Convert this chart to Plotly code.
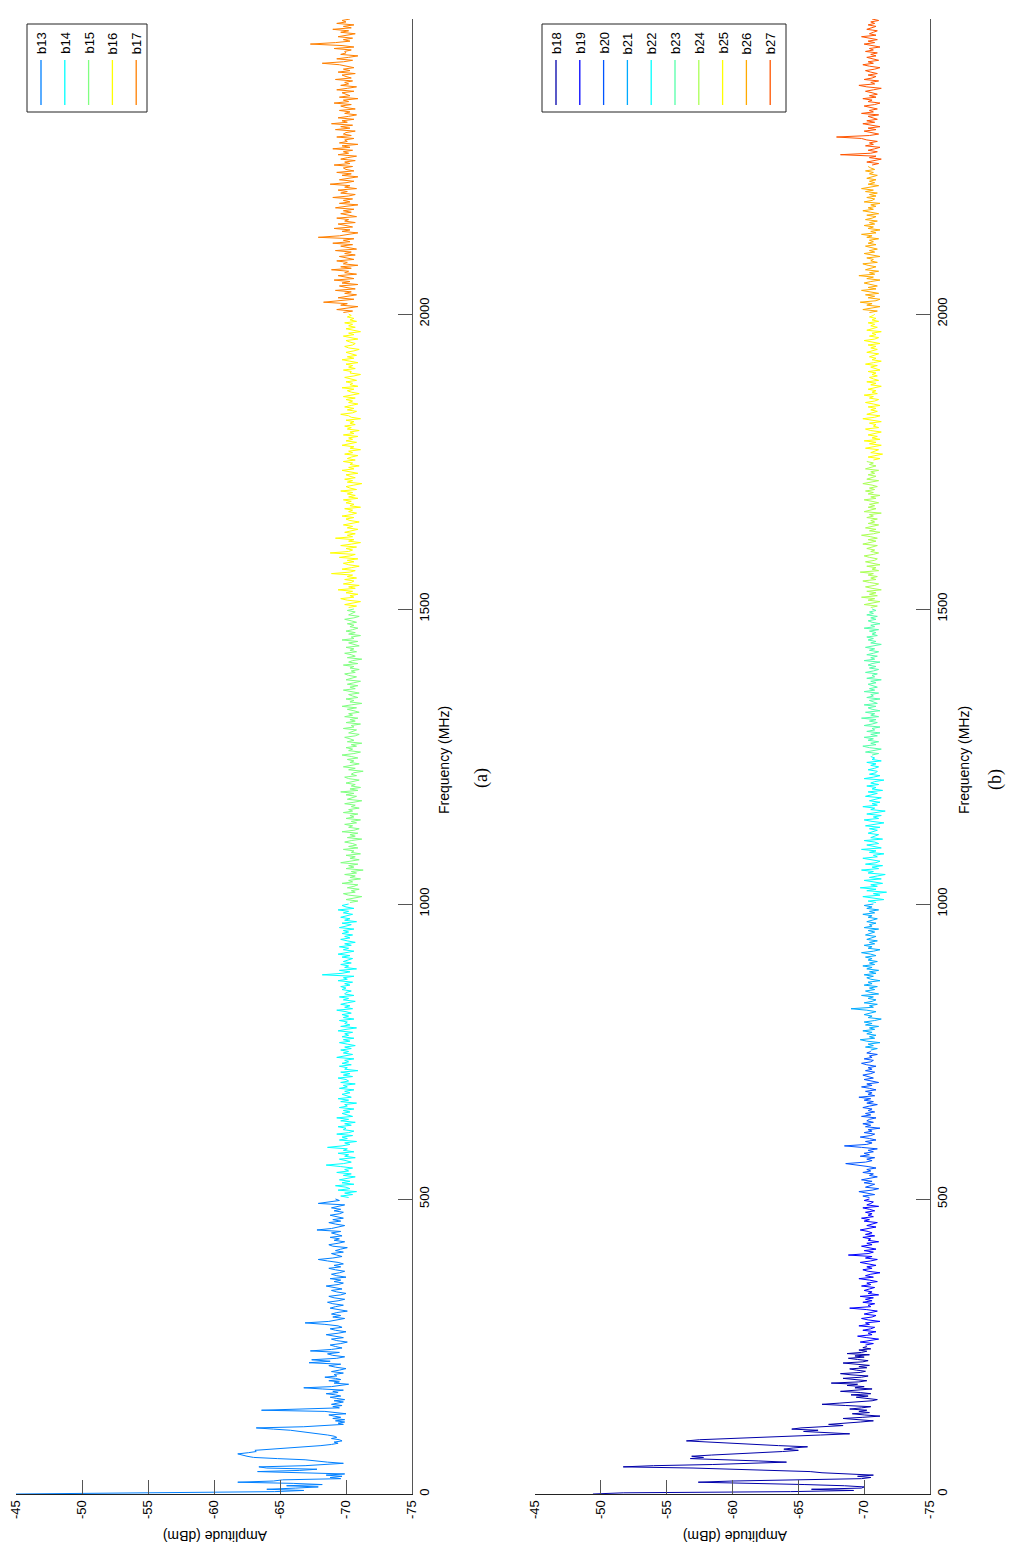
import numpy as np
import plotly.graph_objects as go

# ---------------- data: panel (a) ----------------
b13_low_amp = [  # 0..200 MHz, 2 MHz step
    -45.0, -57.5, -64.6, -66.8, -64.0, -66.2, -67.9, -65.5, -68.2, -66.0,
    -61.8, -64.5, -65.2, -69.6, -68.8, -69.7, -68.5, -69.9, -66.0, -63.3,
    -66.5, -67.8, -64.0, -63.4, -66.9, -68.8, -69.8, -68.6, -67.5, -66.9,
    -64.8, -63.0, -62.5, -62.2, -61.8, -62.6, -63.2, -63.1, -64.5, -65.9,
    -66.9, -68.1, -68.9, -69.4, -69.1, -69.7, -69.5, -68.9, -69.3, -69.1,
    -68.6, -67.9, -67.3, -66.4, -65.8, -64.5, -63.2, -66.8, -68.9, -69.8,
    -69.4, -69.9, -69.2, -69.9, -69.0, -69.6, -69.1, -68.7, -70.0, -69.2,
    -68.4, -63.6, -67.5, -69.5, -69.0, -69.7, -68.9, -69.5, -69.8, -69.1,
    -69.9, -69.3, -68.8, -69.6, -69.2, -68.5, -69.4, -69.0, -69.8, -68.2,
    -66.8, -68.9, -69.6, -70.2, -69.1, -69.5, -68.7, -69.6, -69.2, -68.4,
    -69.3]
b13_amp = [  # 202.5..500 MHz, 2.5 MHz step
    -69.1, -69.8, -68.9, -69.5, -70.0, -69.2, -68.7, -69.6, -67.2, -68.8,
    -67.4, -69.3, -69.9, -69.0, -68.6, -69.5, -67.3, -68.9, -69.7, -69.2,
    -68.8, -69.6, -70.1, -69.3, -68.9, -69.8, -69.1, -68.5, -69.4, -70.0,
    -69.2, -68.8, -69.7, -69.4, -68.4, -66.9, -68.7, -69.5, -69.9, -69.0,
    -69.6, -68.9, -69.3, -70.1, -69.5, -68.8, -69.2, -69.8, -69.0, -68.6,
    -69.4, -69.9, -69.1, -68.7, -69.6, -70.0, -69.3, -68.9, -69.7, -69.2,
    -68.5, -69.4, -69.8, -69.1, -69.6, -68.8, -70.0, -69.3, -68.9, -69.5,
    -69.9, -69.2, -68.7, -69.6, -69.1, -69.8, -69.4, -68.6, -67.9, -69.0,
    -69.7, -69.3, -68.9, -69.8, -69.2, -69.6, -70.1, -69.0, -68.7, -69.4,
    -69.9, -69.1, -69.5, -68.8, -69.7, -69.3, -68.9, -69.6, -67.8, -68.9,
    -69.5, -69.9, -69.2, -68.7, -69.6, -69.0, -69.8, -69.3, -68.8, -69.5,
    -69.8, -69.1, -69.6, -68.9, -69.4, -69.9, -67.9, -68.8, -69.5, -69.2]
b14_amp = [  # 502.5..1000
    -70.2, -69.6, -70.5, -69.9, -70.8, -69.4, -70.3, -70.0, -69.2, -70.6,
    -69.7, -70.3, -69.5, -70.1, -70.7, -69.8, -70.4, -69.3, -70.2, -69.9,
    -70.5, -69.6, -68.5, -69.8, -70.4, -70.0, -69.5, -70.7, -69.9, -70.2,
    -69.4, -70.6, -69.8, -70.1, -68.6, -69.7, -70.3, -69.9, -70.8, -69.5,
    -70.1, -69.7, -70.5, -69.3, -70.2, -70.6, -69.8, -70.0, -69.4, -70.4,
    -69.9, -70.7, -69.6, -70.2, -69.3, -70.5, -70.0, -69.7, -70.3, -69.8,
    -70.6, -69.5, -70.1, -69.9, -70.8, -69.6, -70.2, -69.4, -70.4, -70.0,
    -69.7, -70.3, -69.9, -70.6, -69.5, -70.1, -69.8, -70.7, -69.6, -70.2,
    -70.0, -69.4, -70.5, -69.8, -70.3, -69.6, -70.9, -69.9, -70.1, -69.5,
    -70.4, -69.7, -70.2, -69.9, -70.6, -69.3, -70.0, -70.5, -69.8, -70.2,
    -69.6, -70.4, -69.9, -70.7, -70.1, -69.5, -70.3, -69.8, -70.6, -69.7,
    -70.2, -69.9, -70.5, -69.4, -70.0, -70.8, -69.6, -70.3, -69.9, -70.1,
    -69.5, -70.6, -69.8, -70.2, -69.7, -70.4, -70.0, -69.3, -70.5, -69.9,
    -70.3, -69.6, -70.1, -70.7, -69.8, -70.2, -69.5, -70.6, -69.9, -70.0,
    -70.4, -69.7, -70.0, -69.6, -70.3, -69.9, -70.5, -69.4, -70.1, -69.8,
    -70.6, -68.2, -69.7, -70.3, -69.5, -70.8, -69.9, -70.2, -69.6, -70.4,
    -69.8, -70.1, -70.5, -69.7, -70.3, -69.4, -70.0, -70.6, -69.8, -70.2,
    -69.5, -70.4, -69.9, -70.7, -70.1, -69.6, -70.3, -69.9, -70.5, -69.7,
    -70.2, -69.8, -70.6, -69.5, -70.0, -70.4, -69.7, -70.8, -69.9, -70.3,
    -69.6, -70.1, -70.5, -69.8, -70.2, -69.4, -70.6, -70.0, -69.7, -70.2]
b15_amp = [  # 1002.5..1500
    -70.3, -70.9, -70.0, -70.6, -71.2, -70.2, -69.8, -70.7, -70.4, -71.0,
    -70.1, -70.6, -70.9, -69.7, -70.5, -70.2, -71.1, -70.3, -70.7, -69.9,
    -70.8, -70.4, -71.3, -70.0, -70.6, -70.2, -70.9, -69.6, -70.5, -71.0,
    -70.3, -70.7, -70.0, -71.1, -70.4, -70.6, -69.8, -70.9, -70.2, -70.8,
    -70.5, -69.9, -70.4, -71.2, -70.1, -70.7, -70.3, -70.9, -69.7, -70.6,
    -71.0, -70.2, -70.5, -69.9, -70.8, -70.4, -71.1, -70.0, -70.6, -70.3,
    -70.9, -69.8, -70.5, -70.2, -71.0, -70.4, -70.7, -69.9, -70.6, -71.2,
    -70.1, -70.5, -70.8, -70.0, -70.6, -69.6, -70.9, -70.3, -71.1, -70.4,
    -70.7, -70.0, -70.5, -71.0, -70.2, -69.9, -70.8, -70.4, -70.6, -71.3,
    -70.2, -70.7, -69.8, -70.5, -71.0, -70.3, -70.6, -70.1, -70.9, -70.4,
    -69.7, -70.6, -71.1, -70.2, -70.5, -70.0, -70.8, -70.4, -71.2, -70.1,
    -70.6, -70.3, -69.9, -70.7, -71.0, -70.2, -70.5, -70.8, -69.8, -70.6,
    -70.4, -71.1, -70.0, -70.7, -70.3, -70.9, -69.9, -70.5, -70.2, -71.0,
    -70.6, -70.1, -70.8, -69.7, -70.4, -71.2, -70.3, -70.6, -70.0, -70.9,
    -70.5, -70.2, -71.0, -70.4, -69.8, -70.7, -70.3, -70.9, -70.1, -70.6,
    -71.1, -70.0, -70.5, -70.8, -70.2, -69.9, -70.7, -70.4, -71.0, -70.3,
    -70.6, -69.8, -70.9, -70.2, -70.5, -71.2, -70.1, -70.7, -70.4, -69.9,
    -70.8, -70.3, -70.6, -70.0, -71.0, -70.5, -70.2, -70.9, -69.7, -70.6,
    -70.4, -71.1, -70.2, -70.7, -70.0, -70.5, -70.9, -70.3, -70.6, -70.1,
    -70.8, -70.4, -69.9, -70.6, -71.0, -70.2, -70.5, -70.7, -70.1, -70.6]
b16_amp = [  # 1502.5..2000
    -70.2, -70.8, -69.9, -70.5, -71.1, -70.1, -69.6, -70.6, -70.3, -70.9,
    -70.0, -70.5, -69.4, -70.7, -70.2, -71.0, -69.8, -70.4, -70.6, -69.9,
    -70.8, -70.1, -70.5, -68.9, -70.3, -70.7, -69.7, -70.4, -71.0, -70.2,
    -69.8, -70.6, -70.1, -70.9, -69.5, -70.3, -70.7, -68.8, -70.2, -70.5,
    -70.0, -70.8, -69.6, -70.4, -71.1, -70.2, -70.6, -69.2, -70.5, -70.1,
    -70.7, -69.9, -70.4, -70.9, -70.1, -70.5, -69.8, -70.6, -71.0, -70.3,
    -70.0, -70.6, -69.7, -70.4, -70.8, -70.2, -70.5, -69.9, -71.1, -70.3,
    -70.6, -70.0, -70.4, -69.8, -70.9, -70.2, -70.7, -70.1, -70.5, -69.6,
    -70.8, -70.3, -70.0, -70.6, -71.2, -70.1, -70.5, -69.9, -70.7, -70.3,
    -70.0, -70.9, -70.4, -69.7, -70.6, -70.2, -71.0, -70.3, -70.5, -69.8,
    -70.7, -70.1, -70.4, -70.9, -69.9, -70.5, -70.2, -71.1, -70.3, -70.6,
    -69.7, -70.4, -70.8, -70.0, -70.5, -70.2, -70.9, -69.8, -70.6, -70.3,
    -71.0, -70.1, -70.4, -69.9, -70.7, -70.3, -70.6, -70.0, -71.1, -70.4,
    -70.2, -69.6, -70.5, -70.8, -70.1, -70.6, -69.9, -70.4, -70.9, -70.2,
    -70.5, -70.0, -70.7, -69.8, -70.3, -71.0, -70.4, -70.1, -70.6, -69.7,
    -70.9, -70.3, -70.5, -70.0, -70.8, -70.2, -69.9, -70.6, -71.1, -70.3,
    -70.4, -69.8, -70.7, -70.2, -70.5, -70.0, -70.9, -70.3, -69.7, -70.6,
    -70.1, -70.8, -70.4, -70.0, -70.6, -71.0, -70.2, -69.9, -70.5, -70.7,
    -70.3, -70.0, -70.9, -70.4, -69.8, -70.6, -70.2, -71.1, -70.4, -70.0,
    -70.7, -70.2, -70.5, -69.9, -70.8, -70.3, -70.6, -70.1, -70.4, -70.2]
b17_amp = [  # 2002.5..2500
    -69.8, -70.5, -69.3, -70.2, -70.9, -69.6, -70.1, -68.3, -69.7, -70.6,
    -69.4, -70.3, -70.8, -69.9, -70.4, -69.2, -70.7, -70.0, -69.5, -70.9,
    -69.7, -70.3, -69.1, -70.6, -70.0, -69.4, -70.8, -69.9, -70.2, -68.9,
    -70.4, -69.6, -70.9, -69.8, -70.1, -69.3, -70.6, -70.0, -69.5, -70.7,
    -69.9, -70.4, -69.2, -70.8, -70.1, -69.6, -70.5, -69.0, -70.3, -69.8,
    -70.6, -67.9, -69.5, -70.2, -70.9, -69.7, -70.3, -69.1, -70.5, -70.0,
    -69.4, -70.7, -69.9, -70.2, -69.3, -70.8, -70.1, -69.6, -70.4, -69.8,
    -70.6, -69.2, -70.0, -70.9, -69.5, -70.3, -69.8, -70.5, -69.0, -70.2,
    -70.7, -69.6, -70.1, -69.4, -70.8, -69.9, -70.3, -68.8, -70.0, -70.6,
    -69.5, -70.2, -70.9, -69.7, -70.4, -69.3, -70.6, -70.0, -69.8, -70.5,
    -69.1, -70.3, -69.9, -70.7, -69.6, -70.1, -70.8, -69.4, -70.2, -69.8,
    -70.5, -69.0, -70.3, -69.7, -70.9, -69.5, -70.1, -69.9, -70.6, -69.3,
    -70.4, -69.8, -70.0, -70.7, -69.2, -70.3, -69.6, -70.5, -68.9, -70.1,
    -69.7, -70.6, -69.4, -70.2, -70.8, -69.9, -70.3, -69.5, -70.7, -70.0,
    -69.6, -70.4, -69.1, -70.2, -69.8, -70.9, -69.5, -70.3, -70.0, -69.7,
    -70.6, -69.3, -70.1, -70.8, -69.6, -70.2, -69.9, -70.5, -69.2, -70.4,
    -70.0, -69.7, -70.7, -69.4, -70.3, -69.8, -70.6, -70.1, -69.5, -68.2,
    -69.8, -70.5, -69.3, -70.2, -70.9, -69.6, -70.0, -69.9, -70.4, -69.1,
    -70.6, -69.7, -67.3, -69.2, -70.3, -69.8, -70.5, -69.4, -70.1, -70.7,
    -69.6, -70.2, -69.0, -70.4, -69.8, -70.6, -69.3, -70.0, -69.7, -70.3]

# ---------------- data: panel (b) ----------------
b18_amp = [  # 0..250 MHz, 2 MHz step
    -49.4, -51.7, -64.4, -69.2, -66.0, -69.8, -70.0, -68.5, -65.5, -62.0,
    -57.4, -60.0, -64.0, -69.8, -70.5, -69.5, -70.7, -68.0, -66.8, -65.9,
    -63.0, -60.5, -57.0, -51.7, -54.0, -58.5, -62.6, -64.1, -62.0, -59.0,
    -56.8, -57.8, -56.9, -58.4, -60.6, -62.6, -63.8, -65.0, -63.9, -64.6,
    -65.7, -63.5, -61.6, -59.8, -58.0, -56.5, -57.5, -60.2, -62.6, -64.3,
    -66.7, -68.9, -67.5, -65.4, -66.5, -64.5, -65.2, -66.9, -68.4, -67.3,
    -68.8, -69.7, -70.7, -69.5, -68.4, -69.9, -71.2, -70.0, -69.1, -70.4,
    -69.6, -70.2, -68.9, -69.8, -70.5, -68.6, -66.8, -68.1, -69.5, -70.6,
    -71.0, -70.1, -69.4, -70.3, -69.0, -70.5, -69.7, -68.2, -69.8, -70.6,
    -69.3, -70.0, -68.7, -69.5, -67.5, -69.6, -70.2, -69.1, -68.4, -69.8,
    -70.3, -69.0, -68.2, -69.7, -70.1, -69.4, -68.9, -70.2, -69.6, -70.4,
    -69.1, -68.4, -69.9, -70.3, -69.5, -68.8, -70.0, -69.3, -70.4, -68.7,
    -69.8, -70.2, -69.6, -70.5, -69.9, -70.2]
b19_amp = [  # 252.5..500, 2.5 MHz step
    -70.1, -70.7, -69.7, -70.4, -71.1, -70.2, -69.5, -70.6, -70.3, -70.9,
    -69.9, -70.5, -70.8, -69.6, -70.4, -70.1, -71.2, -70.3, -69.8, -70.6,
    -70.9, -70.0, -70.4, -71.0, -70.2, -68.9, -70.5, -70.3, -70.8, -69.9,
    -70.6, -70.1, -70.7, -69.7, -71.1, -70.3, -70.6, -70.0, -70.4, -70.8,
    -69.8, -70.5, -70.2, -71.0, -70.4, -69.6, -70.7, -70.1, -70.5, -71.2,
    -70.3, -69.9, -70.6, -70.2, -70.9, -70.4, -69.7, -70.5, -71.0, -70.1,
    -70.6, -68.8, -70.3, -70.7, -70.0, -70.9, -70.4, -69.8, -70.6, -70.2,
    -71.1, -70.3, -70.5, -69.9, -70.8, -70.1, -70.6, -70.3, -69.7, -70.5,
    -70.9, -70.2, -70.6, -71.0, -70.0, -70.4, -69.8, -70.7, -70.3, -70.6,
    -70.1, -70.8, -70.4, -69.9, -71.1, -70.2, -70.5, -70.7, -70.0, -70.4]
b20_amp = [  # 502.5..750
    -70.4, -69.9, -70.8, -70.2, -69.6, -70.6, -71.1, -70.1, -70.5, -70.8,
    -70.0, -70.6, -69.8, -70.3, -71.0, -70.4, -70.7, -69.9, -70.5, -70.2,
    -70.9, -70.3, -69.5, -68.6, -70.1, -70.6, -70.2, -70.8, -69.7, -70.4,
    -70.0, -70.7, -70.3, -71.0, -69.8, -68.5, -70.2, -70.6, -70.1, -70.9,
    -70.4, -69.7, -70.5, -70.8, -70.0, -70.6, -70.3, -71.2, -70.1, -70.5,
    -69.9, -70.7, -70.2, -70.4, -70.9, -69.8, -70.5, -70.1, -70.8, -70.3,
    -70.6, -69.9, -70.4, -71.0, -70.2, -70.7, -70.0, -70.5, -69.6, -70.8,
    -70.3, -70.6, -70.1, -70.9, -70.4, -69.8, -70.6, -70.2, -71.1, -70.4,
    -70.0, -70.7, -70.3, -69.9, -70.5, -70.8, -70.1, -70.6, -70.3, -70.9,
    -70.2, -69.8, -70.5, -70.7, -70.0, -70.6, -70.4, -71.0, -70.2, -70.5]
b21_amp = [  # 752.5..1000
    -70.5, -71.0, -70.1, -70.7, -70.3, -71.2, -70.2, -69.7, -70.8, -70.4,
    -70.9, -70.2, -70.6, -69.9, -70.8, -70.4, -71.1, -70.1, -70.6, -70.0,
    -70.8, -71.3, -70.3, -70.6, -70.0, -70.5, -70.9, -70.2, -69.0, -70.7,
    -70.4, -71.0, -70.0, -70.6, -70.9, -70.3, -70.7, -69.8, -71.1, -70.5,
    -70.1, -70.8, -70.4, -71.0, -70.0, -70.6, -70.3, -71.2, -70.5, -70.2,
    -70.7, -70.0, -70.9, -70.4, -71.1, -70.2, -70.6, -69.9, -70.8, -70.4,
    -71.0, -70.3, -70.6, -70.1, -70.9, -70.5, -69.8, -70.7, -71.2, -70.3,
    -70.6, -70.0, -70.8, -70.4, -71.0, -70.2, -70.6, -70.9, -70.1, -70.5,
    -70.8, -70.3, -71.1, -70.0, -70.6, -70.4, -70.9, -70.2, -70.7, -71.0,
    -70.3, -70.6, -69.9, -70.8, -70.4, -71.1, -70.2, -70.6, -70.0, -70.7]
b22_amp = [  # 1002.5..1250
    -70.9, -70.3, -71.5, -70.6, -69.9, -71.2, -70.7, -71.7, -70.2, -70.9,
    -69.7, -71.0, -70.5, -71.4, -70.8, -70.0, -71.3, -70.4, -71.0, -71.6,
    -70.3, -70.7, -69.8, -71.1, -70.6, -71.4, -70.1, -70.9, -71.2, -70.5,
    -69.9, -71.0, -70.7, -71.5, -70.4, -70.9, -69.8, -71.3, -70.6, -70.2,
    -71.1, -70.8, -70.0, -71.4, -70.5, -70.9, -71.1, -70.3, -70.7, -71.0,
    -70.4, -71.2, -70.1, -70.8, -71.5, -70.6, -70.0, -71.1, -70.7, -71.3,
    -70.2, -70.9, -71.6, -70.5, -70.8, -69.9, -71.0, -70.6, -71.2, -70.4,
    -70.8, -71.3, -70.1, -70.7, -71.0, -70.3, -71.4, -70.6, -70.9, -70.2,
    -71.1, -70.5, -70.8, -71.5, -70.0, -70.7, -71.2, -70.4, -70.9, -71.0,
    -70.3, -70.8, -71.1, -70.5, -70.9, -70.2, -71.3, -70.6, -70.8, -70.5]
b23_amp = [  # 1252.5..1500
    -70.6, -71.1, -70.1, -70.8, -71.3, -70.4, -69.9, -70.9, -70.5, -71.1,
    -70.3, -70.7, -70.0, -71.0, -70.5, -71.2, -70.2, -70.8, -70.6, -71.2,
    -70.0, -70.6, -71.0, -70.4, -70.9, -69.8, -71.1, -70.5, -70.8, -70.1,
    -71.2, -70.6, -70.3, -70.9, -70.0, -71.0, -70.6, -70.4, -71.2, -70.2,
    -70.7, -70.5, -71.1, -70.0, -70.8, -70.4, -71.0, -70.7, -70.3, -70.9,
    -70.5, -71.3, -70.2, -70.8, -70.6, -71.0, -70.1, -70.7, -71.1, -70.4,
    -70.9, -70.3, -70.6, -71.2, -70.0, -70.8, -70.5, -71.0, -70.2, -70.7,
    -71.1, -70.4, -70.8, -70.1, -70.6, -71.3, -70.5, -70.9, -70.3, -70.7,
    -70.2, -71.0, -70.6, -70.9, -70.4, -71.1, -70.0, -70.8, -70.5, -71.2,
    -70.6, -70.3, -70.9, -70.5, -71.0, -70.2, -70.7, -70.4, -70.9, -70.6]
b24_amp = [  # 1502.5..1750
    -70.5, -71.0, -70.0, -70.7, -71.2, -70.3, -70.8, -69.8, -71.0, -70.4,
    -70.9, -70.2, -71.3, -70.6, -70.1, -70.8, -71.1, -70.4, -69.9, -70.9,
    -70.5, -71.0, -70.3, -70.7, -69.7, -71.1, -70.6, -70.9, -70.2, -71.2,
    -70.6, -70.1, -70.8, -71.0, -70.4, -70.0, -70.7, -71.1, -70.5, -70.8,
    -70.2, -70.6, -71.0, -69.9, -70.5, -70.9, -70.3, -71.0, -70.5, -69.8,
    -70.7, -71.2, -70.4, -70.9, -70.1, -70.6, -71.1, -70.3, -70.8, -70.5,
    -71.0, -70.2, -70.7, -70.4, -71.3, -70.0, -70.6, -70.9, -70.3, -70.8,
    -70.4, -71.1, -70.6, -70.0, -70.9, -70.5, -71.2, -70.3, -70.7, -70.1,
    -70.8, -70.4, -71.0, -70.6, -69.9, -70.7, -71.1, -70.2, -70.6, -70.9,
    -70.3, -70.8, -70.5, -71.1, -70.1, -70.6, -70.9, -70.4, -70.7, -70.2]
b25_amp = [  # 1752.5..2000
    -70.7, -71.2, -70.3, -70.9, -71.4, -70.5, -70.8, -71.1, -70.1, -70.7,
    -71.3, -70.4, -70.9, -70.0, -71.2, -70.6, -71.0, -70.3, -70.8, -71.3,
    -70.5, -70.1, -71.1, -70.7, -70.9, -70.4, -71.3, -70.6, -69.9, -70.8,
    -71.2, -70.2, -70.7, -71.0, -70.5, -70.9, -70.3, -71.2, -70.7, -70.1,
    -70.8, -71.1, -70.4, -70.7, -70.0, -71.0, -70.6, -70.9, -70.3, -70.8,
    -71.3, -70.5, -70.9, -70.2, -71.1, -70.7, -70.4, -71.0, -70.6, -70.9,
    -70.3, -71.2, -70.8, -70.5, -71.0, -70.1, -70.7, -71.3, -70.6, -70.9,
    -70.4, -70.8, -71.1, -70.2, -70.7, -71.0, -70.5, -70.9, -70.3, -71.2,
    -70.6, -70.0, -70.8, -71.1, -70.4, -70.9, -70.6, -71.3, -70.2, -70.7,
    -71.0, -70.5, -70.8, -70.3, -71.1, -70.6, -70.9, -70.4, -70.7, -70.8]
b26_amp = [  # 2002.5..2250
    -70.4, -71.0, -69.9, -70.7, -71.2, -70.2, -70.6, -69.7, -70.9, -71.2,
    -70.3, -70.8, -70.1, -71.1, -70.5, -69.8, -70.9, -70.3, -71.0, -70.6,
    -70.0, -70.5, -71.2, -70.2, -70.7, -69.6, -70.8, -70.4, -71.1, -70.1,
    -70.6, -70.9, -70.3, -69.9, -71.0, -70.5, -70.7, -70.2, -71.2, -70.5,
    -70.0, -70.8, -70.4, -71.0, -70.6, -70.1, -70.9, -70.3, -70.7, -70.4,
    -71.1, -70.2, -70.6, -69.8, -70.9, -70.5, -71.2, -70.3, -70.7, -70.0,
    -70.8, -70.4, -71.0, -70.1, -70.6, -70.9, -70.2, -71.1, -70.5, -69.9,
    -70.7, -70.3, -70.9, -70.5, -71.2, -70.0, -70.6, -70.8, -70.2, -70.9,
    -70.4, -71.0, -70.1, -70.7, -69.8, -70.6, -71.1, -70.3, -70.8, -70.4,
    -70.9, -70.2, -70.6, -71.0, -70.4, -70.7, -70.1, -70.8, -70.5, -70.3]
b27_amp = [  # 2252.5..2500
    -70.6, -71.1, -70.2, -70.8, -71.3, -70.4, -70.9, -68.2, -70.5, -71.0,
    -70.3, -70.8, -71.2, -70.1, -70.7, -70.4, -71.0, -70.2, -69.8, -67.9,
    -70.4, -71.1, -70.6, -70.0, -70.9, -70.3, -71.2, -70.5, -69.9, -70.8,
    -70.2, -71.0, -70.6, -70.3, -71.1, -69.8, -70.7, -70.4, -71.0, -70.5,
    -70.0, -70.8, -71.2, -70.3, -70.6, -69.9, -70.9, -70.4, -71.0, -70.6,
    -70.1, -70.7, -71.3, -70.2, -69.6, -70.8, -70.5, -71.1, -70.0, -70.6,
    -70.9, -70.3, -71.0, -70.5, -70.1, -70.8, -71.2, -70.4, -69.9, -70.7,
    -70.3, -71.1, -70.6, -70.2, -70.9, -70.5, -71.0, -70.1, -70.7, -70.4,
    -71.2, -70.6, -70.0, -70.8, -70.3, -71.0, -70.5, -69.8, -70.9, -70.4,
    -70.7, -71.0, -70.2, -70.6, -70.9, -70.3, -70.8, -70.5, -71.1, -70.6]

amp_ticks = [-45, -50, -55, -60, -65, -70, -75]
amp_ticktext = ["-45", "-50", "-55", "-60", "-65", "-70", "-75"]
freq_ticks = [0, 500, 1000, 1500, 2000, 2500]
freq_ticktext = ["0", "500", "1000", "1500", "2000", "2500"]

names_a = ["b13", "b14", "b15", "b16", "b17"]
colors_a = ["#0080ff", "#00ffff", "#80ff80", "#ffff00", "#ff8000"]
names_b = ["b18", "b19", "b20", "b21", "b22", "b23", "b24", "b25", "b26", "b27"]
colors_b = ["#0000aa", "#0000ff", "#0055ff", "#00aaff", "#00ffff",
            "#55ffaa", "#aaff55", "#ffff00", "#ffaa00", "#ff5500"]


def freqs(start, step, n):
    return start + step * np.arange(n)


b13_f = np.concatenate([freqs(0, 2, len(b13_low_amp)), freqs(202.5, 2.5, len(b13_amp))])
b13_a = list(b13_low_amp) + list(b13_amp)
series_a = [
    (b13_f, b13_a),
    (freqs(502.5, 2.5, len(b14_amp)), b14_amp),
    (freqs(1002.5, 2.5, len(b15_amp)), b15_amp),
    (freqs(1502.5, 2.5, len(b16_amp)), b16_amp),
    (freqs(2002.5, 2.5, len(b17_amp)), b17_amp),
]
series_b = [
    (freqs(0, 2, len(b18_amp)), b18_amp),
    (freqs(252.5, 2.5, len(b19_amp)), b19_amp),
    (freqs(502.5, 2.5, len(b20_amp)), b20_amp),
    (freqs(752.5, 2.5, len(b21_amp)), b21_amp),
    (freqs(1002.5, 2.5, len(b22_amp)), b22_amp),
    (freqs(1252.5, 2.5, len(b23_amp)), b23_amp),
    (freqs(1502.5, 2.5, len(b24_amp)), b24_amp),
    (freqs(1752.5, 2.5, len(b25_amp)), b25_amp),
    (freqs(2002.5, 2.5, len(b26_amp)), b26_amp),
    (freqs(2252.5, 2.5, len(b27_amp)), b27_amp),
]

# page has an 8px body margin; build the figure so page pixels match the reference
OFF = 8
W, H = 1017 - 2 * OFF, 1555 - 2 * OFF
fig = go.Figure()
for (f, a), name, col in zip(series_a, names_a, colors_a):
    fig.add_trace(go.Scatter(x=a, y=f, mode="lines", name=name,
                             line=dict(color=col, width=1), xaxis="x", yaxis="y",
                             showlegend=False))
for (f, a), name, col in zip(series_b, names_b, colors_b):
    fig.add_trace(go.Scatter(x=a, y=f, mode="lines", name=name,
                             line=dict(color=col, width=1), xaxis="x2", yaxis="y2",
                             showlegend=False))

FONT = "Liberation Sans, Arial, sans-serif"
AX = "#555555"


def px(x):
    return (x - OFF) / W


def py(y):
    return 1 - (y - OFF) / H


ydom = [py(1494), py(19)]
common_x = dict(range=[-45, -75], tickmode="array", tickvals=amp_ticks, ticktext=amp_ticktext,
                ticks="inside", ticklen=14, tickcolor=AX, tickwidth=1,
                showline=True, linecolor="#222222", linewidth=1, showgrid=False,
                zeroline=False, tickangle=-90, tickfont=dict(size=13, color="black", family=FONT),
                automargin=False, fixedrange=True)
common_y = dict(range=[0, 2500], domain=ydom, tickmode="array", tickvals=freq_ticks,
                ticktext=freq_ticktext, side="right",
                ticks="inside", ticklen=14, tickcolor=AX, tickwidth=1,
                showline=True, linecolor=AX, linewidth=1, showgrid=False,
                zeroline=False, tickangle=-90, tickfont=dict(size=13, color="black", family=FONT),
                automargin=False, fixedrange=True)

fig.update_layout(
    width=W, height=H,
    margin=dict(l=0, r=0, t=0, b=0),
    paper_bgcolor="white", plot_bgcolor="white",
    showlegend=False,
    xaxis=dict(domain=[px(16), px(412)], anchor="y", **common_x),
    yaxis=dict(anchor="x", **common_y),
    xaxis2=dict(domain=[px(535), px(930)], anchor="y2", **common_x),
    yaxis2=dict(anchor="x2", **common_y),
)

annotations = []
shapes = []


def text(x, y, s, angle, size=14, family=FONT):
    annotations.append(dict(x=px(x), y=py(y), xref="paper", yref="paper", text=s,
                            showarrow=False, textangle=angle,
                            font=dict(size=size, family=family, color="black"),
                            xanchor="center", yanchor="middle"))


text(215, 1536, "Amplitude (dBm)", 180, 14)
text(735, 1536, "Amplitude (dBm)", 180, 14)
text(444, 760, "Frequency (MHz)", -90, 14)
text(964, 760, "Frequency (MHz)", -90, 14)
text(481, 778, "(a)", -90, 18, "Liberation Serif, Times New Roman, serif")
text(995, 780, "(b)", -90, 18, "Liberation Serif, Times New Roman, serif")


def legend(x0, x1, y0, y1, names, colors, first_x, spacing):
    shapes.append(dict(type="rect", xref="paper", yref="paper",
                       x0=px(x0), x1=px(x1), y0=py(y1), y1=py(y0),
                       line=dict(color="#222222", width=1), fillcolor="white"))
    for i, (n, c) in enumerate(zip(names, colors)):
        cx = first_x + i * spacing
        shapes.append(dict(type="line", xref="paper", yref="paper",
                           x0=px(cx), x1=px(cx), y0=py(105), y1=py(60),
                           line=dict(color=c, width=1.3)))
        text(cx, 43, n, -90, 13)


legend(27, 147, 24, 112, names_a, colors_a, 41, 23.8)
legend(542, 786, 24, 112, names_b, colors_b, 556, 23.8)

fig.update_layout(annotations=annotations, shapes=shapes)
fig.write_html("out.html")
